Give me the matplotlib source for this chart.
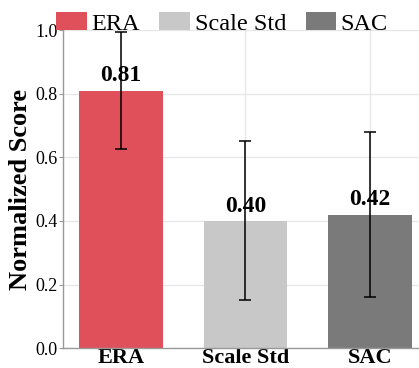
import matplotlib.pyplot as plt
import numpy as np

plt.rcParams['font.family'] = ['Liberation Serif', 'DejaVu Serif']

methods = ['ERA', 'Scale Std', 'SAC']
scores = [0.81, 0.40, 0.42]
errors = [0.185, 0.25, 0.26]
colors = ['#E0505A', '#C8C8C8', '#7A7A7A']

fig = plt.figure(figsize=(4.19, 3.68), dpi=100)
ax = fig.add_axes([0.150, 0.054, 0.852, 0.864])

x = np.arange(len(methods))
bars = ax.bar(x, scores, width=0.67, color=colors, label=methods, zorder=2)
ax.errorbar(x, scores, yerr=errors, fmt='none', ecolor='black',
            elinewidth=1.1, capsize=4.5, capthick=1.1, zorder=4)

for xi, s in zip(x, scores):
    ax.annotate(f'{s:.2f}', (xi, s), xytext=(0, 3), textcoords='offset points',
                ha='center', va='bottom', fontsize=17, fontweight='bold', zorder=3)

ax.set_xlim(-0.465, 2.4)
ax.set_ylim(0, 1.0)
ax.set_yticks(np.arange(0, 1.01, 0.2))
ax.set_yticklabels([f'{v:.1f}' for v in np.arange(0, 1.01, 0.2)], fontsize=13)
ax.set_xticks(x)
ax.set_xticklabels(methods, fontsize=16, fontweight='bold')
ax.tick_params(axis='x', length=0, pad=0)
ax.tick_params(axis='y', length=3, color='#999999', pad=1)
ax.set_ylabel('Normalized Score', fontsize=19, fontweight='bold')
ax.yaxis.set_label_coords(-0.086, 0.5)

ax.grid(True, color='#E6E6E6', linewidth=0.9, zorder=0)
ax.set_axisbelow(True)
for sp in ['top', 'right']:
    ax.spines[sp].set_visible(False)
for sp in ['left', 'bottom']:
    ax.spines[sp].set_color('#999999')
    ax.spines[sp].set_linewidth(1.0)

fig.legend(bars, methods, loc='upper center', bbox_to_anchor=(0.53, 1.026),
           ncol=3, frameon=False, fontsize=17.5, handlelength=1.25,
           handleheight=0.75, columnspacing=0.8, handletextpad=0.2)

fig.savefig('out.png', dpi=100)
